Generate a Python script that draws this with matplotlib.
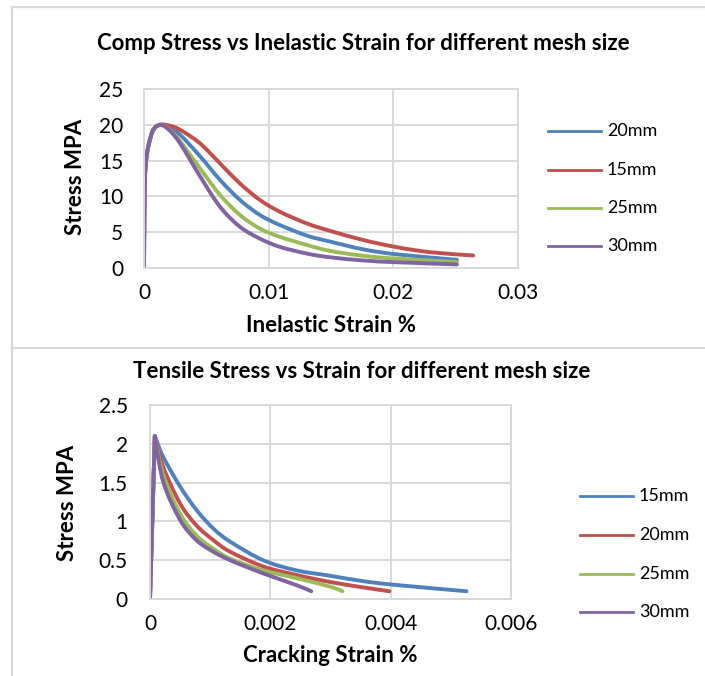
import matplotlib
matplotlib.use("Agg")
import numpy as np
import matplotlib.pyplot as plt
from matplotlib.lines import Line2D
from matplotlib.path import Path
from matplotlib.patches import PathPatch

plt.rcParams['font.family'] = ['Lato', 'DejaVu Sans']

# ---------------- Data: compressive (top) ----------------
comp_title = "Comp Stress vs Inelastic Strain for different mesh size"
comp_xlabel = "Inelastic Strain %"
comp_ylabel = "Stress MPA"
comp_labels = ["20mm", "15mm", "25mm", "30mm"]

rise_x = [0.0, 0.00003, 0.00008, 0.0002, 0.0004, 0.00075, 0.0013]
rise_y = [0.0, 8.0, 12.8, 15.5, 17.4, 19.3, 20.0]

comp_x_20 = rise_x + [0.002, 0.0029, 0.0045, 0.0061, 0.0077, 0.0093, 0.0109, 0.0131, 0.0149, 0.0176, 0.0203, 0.0251]
comp_y_20 = rise_y + [19.7, 18.6, 15.6, 12.3, 9.5, 7.4, 6.0, 4.5, 3.7, 2.6, 1.9, 1.15]

comp_x_15 = rise_x + [0.002, 0.0029, 0.0045, 0.0061, 0.0077, 0.0093, 0.0109, 0.0131, 0.0149, 0.0176, 0.0203, 0.0230, 0.0264]
comp_y_15 = rise_y + [19.9, 19.3, 17.4, 14.6, 11.8, 9.5, 7.85, 6.2, 5.2, 3.9, 2.9, 2.2, 1.75]

comp_x_25 = rise_x + [0.002, 0.0029, 0.0045, 0.0061, 0.0077, 0.0093, 0.0109, 0.0131, 0.0149, 0.0176, 0.0203, 0.0251]
comp_y_25 = rise_y + [19.4, 17.7, 13.9, 10.2, 7.4, 5.5, 4.35, 3.2, 2.4, 1.7, 1.3, 0.85]

comp_x_30 = rise_x + [0.002, 0.0029, 0.0045, 0.0061, 0.0077, 0.0093, 0.0109, 0.0131, 0.0149, 0.0176, 0.0203, 0.0251]
comp_y_30 = rise_y + [19.3, 17.4, 12.8, 8.55, 5.75, 4.1, 2.95, 2.0, 1.5, 1.05, 0.8, 0.5]

comp_xticks = [0, 0.01, 0.02, 0.03]
comp_xticklabels = ["0", "0.01", "0.02", "0.03"]
comp_yticks = [0, 5, 10, 15, 20, 25]

# ---------------- Data: tensile (bottom) ----------------
tens_title = "Tensile Stress vs Strain for different mesh size"
tens_xlabel = "Cracking Strain %"
tens_ylabel = "Stress MPA"
tens_labels = ["15mm", "20mm", "25mm", "30mm"]

tens_x_15 = [0.0, 0.00008, 0.00022, 0.0005, 0.00077, 0.00105, 0.00133, 0.00188, 0.00243, 0.00299, 0.00354, 0.0041, 0.00526]
tens_y_15 = [0.0, 2.1, 1.83, 1.45, 1.15, 0.91, 0.74, 0.50, 0.37, 0.30, 0.23, 0.18, 0.10]

tens_x_20 = [0.0, 0.00008, 0.00022, 0.0005, 0.00077, 0.00105, 0.00133, 0.00188, 0.00243, 0.00299, 0.00354, 0.00398]
tens_y_20 = [0.0, 2.1, 1.70, 1.23, 0.95, 0.76, 0.61, 0.42, 0.31, 0.22, 0.15, 0.10]

tens_x_25 = [0.0, 0.00008, 0.00022, 0.0005, 0.00077, 0.00105, 0.00133, 0.00188, 0.00243, 0.00299, 0.0032]
tens_y_25 = [0.0, 2.1, 1.60, 1.10, 0.82, 0.65, 0.52, 0.37, 0.27, 0.16, 0.10]

tens_x_30 = [0.0, 0.00008, 0.00022, 0.0005, 0.00077, 0.00105, 0.00133, 0.00188, 0.00243, 0.00268]
tens_y_30 = [0.0, 2.1, 1.51, 1.02, 0.76, 0.61, 0.50, 0.33, 0.18, 0.10]

tens_xticks = [0, 0.002, 0.004, 0.006]
tens_xticklabels = ["0", "0.002", "0.004", "0.006"]
tens_yticks = [0, 0.5, 1, 1.5, 2, 2.5]
tens_yticklabels = ["0", "0.5", "1", "1.5", "2", "2.5"]

# ---------------- Style ----------------
C_BLUE = "#4F81BD"
C_RED = "#C0504D"
C_GREEN = "#9BBB59"
C_PURPLE = "#8064A2"
GRID = "#D9D9D9"
TXT = "#000000"
LW = 2.8
LEG_LW = 2.0

W, H = 705, 676
fig = plt.figure(figsize=(W / 100, H / 100), dpi=100)
fig.patch.set_facecolor("white")


def fx(px):
    return px / W


def fy(py):
    return 1 - py / H


# chart frames
for (x0, y0), (x1, y1) in [((12, 7), (12, 348)), ((12, 7), (705, 7)), ((12, 348), (705, 348)),
                           ((12, 350), (12, 676))]:
    fig.add_artist(Line2D([fx(x0), fx(x1)], [fy(y0), fy(y1)], color=GRID, lw=1.6,
                          transform=fig.transFigure))


def style_axes(ax, xpad, ypad):
    ax.set_facecolor("white")
    for s in ax.spines.values():
        s.set_color(GRID)
        s.set_linewidth(1.4)
    ax.grid(True, color=GRID, lw=1.4)
    ax.set_axisbelow(True)
    ax.tick_params(length=0, labelsize=15, colors=TXT)
    ax.tick_params(axis='x', pad=xpad)
    ax.tick_params(axis='y', pad=ypad)


def smooth_line(ax, xs, ys, color, xr, yr, corners=()):
    """Excel-style smoothed line: cubic Bezier through the given points.
    Indices in `corners` get one-sided tangents (no overshoot)."""
    px = np.asarray(xs, float) / xr
    py = np.asarray(ys, float) / yr
    pts = np.column_stack([px, py])
    n = len(pts)
    verts = [pts[0]]
    codes = [Path.MOVETO]
    for i in range(n - 1):
        p1 = pts[i]
        p2 = pts[i + 1]
        p0 = pts[i - 1] if (i > 0 and i not in corners) else pts[i]
        p3 = pts[i + 2] if (i + 2 < n and (i + 1) not in corners) else pts[i + 1]
        c1 = p1 + (p2 - p0) / 6.0
        c2 = p2 - (p3 - p1) / 6.0
        verts += [c1, c2, p2]
        codes += [Path.CURVE4] * 3
    verts = np.array(verts) * np.array([xr, yr])
    patch = PathPatch(Path(verts, codes), facecolor="none", edgecolor=color, lw=LW,
                      capstyle="round", joinstyle="round")
    ax.add_patch(patch)


def manual_legend(labels, colors, x_line0, x_line1, x_text, ys):
    for lab, c, y in zip(labels, colors, ys):
        fig.add_artist(Line2D([fx(x_line0), fx(x_line1)], [fy(y), fy(y)], color=c, lw=LEG_LW,
                              transform=fig.transFigure))
        fig.text(fx(x_text), fy(y), lab, ha="left", va="center", fontsize=13)


# top axes
ax1 = fig.add_axes([fx(144), fy(268), fx(518 - 144), (268 - 89) / H])
style_axes(ax1, 11, 15)
comp_series = [(comp_x_20, comp_y_20, C_BLUE), (comp_x_15, comp_y_15, C_RED),
               (comp_x_25, comp_y_25, C_GREEN), (comp_x_30, comp_y_30, C_PURPLE)]
for xs, ys, c in comp_series:
    smooth_line(ax1, xs, ys, c, 0.03, 25)
ax1.set_xlim(0, 0.03)
ax1.set_ylim(0, 25)
ax1.set_xticks(comp_xticks)
ax1.set_xticklabels(comp_xticklabels)
ax1.set_yticks(comp_yticks)
fig.text(fx(363), fy(43), comp_title, ha="center", va="center", fontsize=16, fontweight="bold")
fig.text(fx(331), fy(325), comp_xlabel, ha="center", va="center", fontsize=16, fontweight="bold")
fig.text(fx(75), fy(177), comp_ylabel, ha="center", va="center", fontsize=16, fontweight="bold", rotation=90)
manual_legend(comp_labels, [C_BLUE, C_RED, C_GREEN, C_PURPLE], 548, 601, 607, [131, 170, 208, 246])

# bottom axes
ax2 = fig.add_axes([fx(150), fy(599), fx(511 - 150), (599 - 405) / H])
style_axes(ax2, 11, 16)
tens_series = [(tens_x_15, tens_y_15, C_BLUE), (tens_x_20, tens_y_20, C_RED),
               (tens_x_25, tens_y_25, C_GREEN), (tens_x_30, tens_y_30, C_PURPLE)]
for xs, ys, c in tens_series:
    smooth_line(ax2, xs, ys, c, 0.006, 2.5, corners=(1,))
ax2.set_xlim(0, 0.006)
ax2.set_ylim(0, 2.5)
ax2.set_xticks(tens_xticks)
ax2.set_xticklabels(tens_xticklabels)
ax2.set_yticks(tens_yticks)
ax2.set_yticklabels(tens_yticklabels)
fig.text(fx(362), fy(372), tens_title, ha="center", va="center", fontsize=16, fontweight="bold")
fig.text(fx(330), fy(655), tens_xlabel, ha="center", va="center", fontsize=16, fontweight="bold")
fig.text(fx(68), fy(503), tens_ylabel, ha="center", va="center", fontsize=16, fontweight="bold", rotation=90)
manual_legend(tens_labels, [C_BLUE, C_RED, C_GREEN, C_PURPLE], 580, 633, 639, [496, 535, 574, 612])

fig.savefig("out.png", dpi=100, facecolor="white")
